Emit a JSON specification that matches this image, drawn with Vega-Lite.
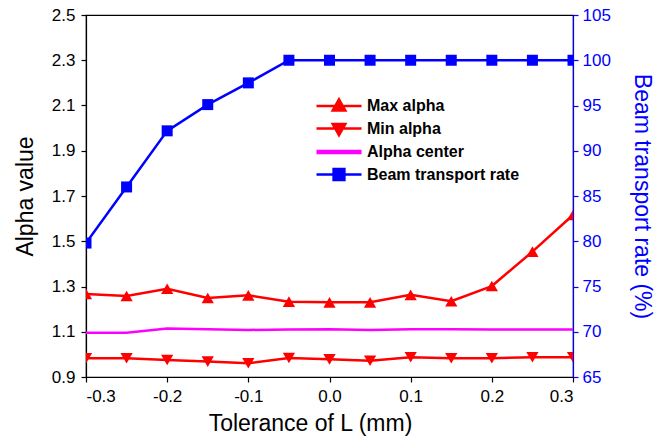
{
  "$schema": "https://vega.github.io/schema/vega-lite/v6.json",
  "autosize": {"type": "none"},
  "padding": {"left": 86, "top": 15, "right": 95, "bottom": 68},
  "width": 487,
  "height": 362,
  "config": {
    "font": "Liberation Sans",
    "view": {"stroke": "black", "strokeWidth": 1.2},
    "axis": {"grid": false, "labelFontSize": 17, "titleFontSize": 23, "titleFontWeight": "normal", "labelColor": "black", "titleColor": "black", "domainColor": "black", "tickColor": "black", "tickSize": 5, "domainWidth": 1.2, "tickWidth": 1.2, "labelFont": "Liberation Sans", "titleFont": "Liberation Sans"}
  },
  "datasets": {
    "d": [
      {"L": -0.3, "series": "Max alpha", "value": 1.267},
      {"L": -0.25, "series": "Max alpha", "value": 1.258},
      {"L": -0.2, "series": "Max alpha", "value": 1.29},
      {"L": -0.15, "series": "Max alpha", "value": 1.249},
      {"L": -0.1, "series": "Max alpha", "value": 1.261},
      {"L": -0.05, "series": "Max alpha", "value": 1.233},
      {"L": 0.0, "series": "Max alpha", "value": 1.23},
      {"L": 0.05, "series": "Max alpha", "value": 1.23},
      {"L": 0.1, "series": "Max alpha", "value": 1.263},
      {"L": 0.15, "series": "Max alpha", "value": 1.235},
      {"L": 0.2, "series": "Max alpha", "value": 1.302},
      {"L": 0.25, "series": "Max alpha", "value": 1.454},
      {"L": 0.3, "series": "Max alpha", "value": 1.616},
      {"L": -0.3, "series": "Min alpha", "value": 0.983},
      {"L": -0.25, "series": "Min alpha", "value": 0.983},
      {"L": -0.2, "series": "Min alpha", "value": 0.975},
      {"L": -0.15, "series": "Min alpha", "value": 0.968},
      {"L": -0.1, "series": "Min alpha", "value": 0.961},
      {"L": -0.05, "series": "Min alpha", "value": 0.984},
      {"L": 0.0, "series": "Min alpha", "value": 0.978},
      {"L": 0.05, "series": "Min alpha", "value": 0.972},
      {"L": 0.1, "series": "Min alpha", "value": 0.987},
      {"L": 0.15, "series": "Min alpha", "value": 0.983},
      {"L": 0.2, "series": "Min alpha", "value": 0.983},
      {"L": 0.25, "series": "Min alpha", "value": 0.987},
      {"L": 0.3, "series": "Min alpha", "value": 0.987},
      {"L": -0.3, "series": "Alpha center", "value": 1.096},
      {"L": -0.25, "series": "Alpha center", "value": 1.096},
      {"L": -0.2, "series": "Alpha center", "value": 1.114},
      {"L": -0.15, "series": "Alpha center", "value": 1.111},
      {"L": -0.1, "series": "Alpha center", "value": 1.108},
      {"L": -0.05, "series": "Alpha center", "value": 1.11},
      {"L": 0.0, "series": "Alpha center", "value": 1.111},
      {"L": 0.05, "series": "Alpha center", "value": 1.108},
      {"L": 0.1, "series": "Alpha center", "value": 1.111},
      {"L": 0.15, "series": "Alpha center", "value": 1.111},
      {"L": 0.2, "series": "Alpha center", "value": 1.11},
      {"L": 0.25, "series": "Alpha center", "value": 1.11},
      {"L": 0.3, "series": "Alpha center", "value": 1.11},
      {"L": -0.3, "series": "Beam transport rate", "value": 79.8},
      {"L": -0.25, "series": "Beam transport rate", "value": 86.0},
      {"L": -0.2, "series": "Beam transport rate", "value": 92.2},
      {"L": -0.15, "series": "Beam transport rate", "value": 95.1},
      {"L": -0.1, "series": "Beam transport rate", "value": 97.5},
      {"L": -0.05, "series": "Beam transport rate", "value": 100},
      {"L": 0.0, "series": "Beam transport rate", "value": 100},
      {"L": 0.05, "series": "Beam transport rate", "value": 100},
      {"L": 0.1, "series": "Beam transport rate", "value": 100},
      {"L": 0.15, "series": "Beam transport rate", "value": 100},
      {"L": 0.2, "series": "Beam transport rate", "value": 100},
      {"L": 0.25, "series": "Beam transport rate", "value": 100},
      {"L": 0.3, "series": "Beam transport rate", "value": 100}
    ]
  },
  "data": {"name": "d"},
  "encoding": {
    "x": {
      "field": "L", "type": "quantitative",
      "scale": {"domain": [-0.3, 0.3], "nice": false, "zero": false},
      "axis": {"values": [-0.3, -0.2, -0.1, 0, 0.1, 0.2, 0.3], "labelExpr": "replace(format(datum.value, '.1f'), '\u2212', '-')", "title": "Tolerance of L (mm)", "labelPadding": 6, "titlePadding": 8, "titleX": 224}
    },
    "color": {
      "field": "series", "type": "nominal",
      "scale": {"domain": ["Max alpha", "Min alpha", "Alpha center", "Beam transport rate"], "range": ["#ff0000", "#ff0000", "#ff00ff", "#0000ff"]},
      "legend": {
        "title": null,
        "orient": "none",
        "legendX": 245,
        "legendY": 83,
        "labelFontSize": 16,
        "labelFontWeight": "bold",
        "labelColor": "black",
        "labelFont": "Liberation Sans",
        "symbolSize": 2025,
        "symbolStrokeWidth": 2.5,
        "labelOffset": 20,
        "rowPadding": 2.5,
        "encode": {
          "symbols": {
            "update": {
              "shape": {"signal": "datum.value === 'Max alpha' ? 'M-1,0H1M0,-0.3L0.28,0.2L-0.28,0.2Z' : datum.value === 'Min alpha' ? 'M-1,0H1M0,0.3L0.28,-0.2L-0.28,-0.2Z' : datum.value === 'Alpha center' ? 'M-1,0H1' : 'M-1,0H1M-0.24,-0.24H0.24V0.24H-0.24Z'"},
              "fill": {"signal": "datum.value === 'Alpha center' ? '#ff00ff' : datum.value === 'Beam transport rate' ? '#0000ff' : '#ff0000'"},
              "stroke": {"signal": "datum.value === 'Alpha center' ? '#ff00ff' : datum.value === 'Beam transport rate' ? '#0000ff' : '#ff0000'"},
              "strokeWidth": {"signal": "datum.value === 'Alpha center' ? 4.5 : 2.5"},
              "size": {"value": 2025}
            }
          }
        }
      }
    }
  },
  "layer": [
    {
      "transform": [{"filter": "datum.series !== 'Beam transport rate'"}],
      "encoding": {
        "y": {
          "field": "value", "type": "quantitative",
          "scale": {"domain": [0.9, 2.5], "nice": false, "zero": false},
          "axis": {"values": [0.9, 1.1, 1.3, 1.5, 1.7, 1.9, 2.1, 2.3, 2.5], "format": ".1f", "title": "Alpha value", "orient": "left", "labelPadding": 6, "titlePadding": 14}
        }
      },
      "layer": [
        {
          "mark": {"type": "line", "clip": true},
          "encoding": {
            "strokeWidth": {"field": "series", "type": "nominal", "scale": {"domain": ["Max alpha", "Min alpha", "Alpha center"], "range": [2.5, 2.5, 4.5]}, "legend": null}
          }
        },
        {
          "transform": [{"filter": "datum.series !== 'Alpha center'"}],
          "mark": {"type": "point", "filled": true, "opacity": 1, "clip": true, "size": 150},
          "encoding": {
            "shape": {"field": "series", "type": "nominal", "scale": {"domain": ["Max alpha", "Min alpha"], "range": ["triangle-up", "triangle-down"]}, "legend": null}
          }
        }
      ]
    },
    {
      "transform": [{"filter": "datum.series === 'Beam transport rate'"}],
      "encoding": {
        "y": {
          "field": "value", "type": "quantitative",
          "scale": {"domain": [65, 105], "nice": false, "zero": false},
          "axis": {"values": [65, 70, 75, 80, 85, 90, 95, 100, 105], "title": "Beam transport rate (%)", "orient": "right", "domainColor": "#0000ff", "tickColor": "#0000ff", "labelColor": "#0000ff", "titleColor": "#0000ff", "titleAngle": 90, "labelPadding": 4, "titlePadding": 19}
        }
      },
      "layer": [
        {"mark": {"type": "line", "clip": true, "strokeWidth": 2.5}, "encoding": {}},
        {"mark": {"type": "square", "filled": true, "opacity": 1, "clip": true, "size": 121}, "encoding": {}}
      ]
    }
  ],
  "resolve": {"scale": {"y": "independent"}}
}
